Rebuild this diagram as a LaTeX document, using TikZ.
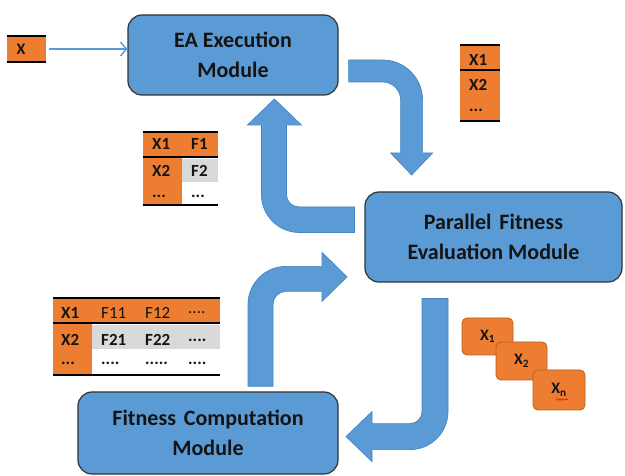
\documentclass[tikz,border=0pt]{standalone}
\usepackage{fontspec}
\setmainfont{Carlito}
\usetikzlibrary{arrows.meta,decorations.pathmorphing}
\definecolor{boxblue}{HTML}{5B9BD5}
\definecolor{arrowedge}{HTML}{4A85BF}
\definecolor{cellorange}{HTML}{ED7D31}
\definecolor{cellgray}{HTML}{D9D9D9}
\definecolor{inkdark}{HTML}{141414}
\definecolor{chipedge}{HTML}{B65F20}
\begin{document}
\begin{tikzpicture}[x=1pt,y=-1pt,
  module/.style={draw=black!80, line width=1.2pt, fill=boxblue, rounded corners=14pt,
    align=center, font=\fontsize{22}{30}\selectfont\bfseries, text=inkdark, inner sep=0pt},
  bigarrow/.style={fill=boxblue, draw=arrowedge, line width=0.7pt, line join=miter},
  toprule/.style={draw=black, line width=2pt},
  botrule/.style={draw=black, line width=2.6pt},
  celltxt/.style={anchor=west, font=\fontsize{17}{17}\selectfont\bfseries, text=inkdark, inner sep=0pt},
  cellthin/.style={anchor=west, font=\fontsize{17}{17}\selectfont, text=inkdark, inner sep=0pt},
  chip/.style={draw=chipedge, line width=0.8pt, fill=cellorange, rounded corners=5pt,
    font=\fontsize{16}{16}\selectfont\bfseries, text=inkdark, inner sep=0pt},
  feed/.style={draw=boxblue, line width=1.4pt, -{Straight Barb[length=6pt,width=14pt]}}
]
\useasboundingbox[fill=white] (0,0) rectangle (625,476);

% ---- modules ----
\node[module, minimum width=210pt, minimum height=80pt] (ea) at (233,55) {EA Execution\\Module};
\node[module, minimum width=257pt, minimum height=90pt] (pfe) at (493.5,237) {Parallel\hspace{0.36em}Fitness\\Evaluation Module};
\node[module, minimum width=260pt, minimum height=82pt] (fcm) at (208,433) {Fitness\hspace{0.36em}Computation\\Module};

% ---- input individual ----
\node[fill=cellorange, anchor=west, minimum height=26pt, text width=20pt, inner xsep=9.5pt, inner ysep=0pt,
  align=left, font=\fontsize{16}{16}\selectfont\bfseries, text=inkdark] (xin) at (7,49) {X};
\draw[toprule] (xin.north west) -- (xin.north east);
\draw[botrule] (xin.south west) -- (xin.south east);
\draw[feed, shorten <=3pt] (xin.east) -- (xin.east -| ea.west);

% ---- EA -> parallel evaluation ----
\begin{scope}[shift={(ea.east)}]
\path[bigarrow] (10,5) -- (44,5) .. controls (66.1,5) and (84,22.9) .. (84,45) -- (84,98) -- (94,98)
  -- (73,120) -- (52,98) -- (62,98) -- (62,45) .. controls (62,35.06) and (53.94,27) .. (44,27)
  -- (10,27) -- cycle;
\end{scope}

% ---- parallel evaluation -> EA ----
\begin{scope}[shift={(pfe.west)}]
\path[bigarrow] (-10,-30) -- (-65,-30) .. controls (-72.18,-30) and (-78,-35.32) .. (-78,-42.5)
  -- (-78,-112) -- (-63,-112) -- (-90,-138) -- (-117,-112) -- (-103,-112) -- (-103,-42.5)
  .. controls (-103,-21.51) and (-85.99,-4.5) .. (-65,-4.5) -- (-10,-4.5) -- cycle;
\end{scope}

% ---- fitness computation -> parallel evaluation ----
\begin{scope}[shift={(fcm.north)}]
\path[bigarrow] (40,-5) -- (40,-87) .. controls (40,-107.99) and (57.01,-125) .. (78,-125)
  -- (114,-125) -- (114,-139) -- (139,-114.5) -- (114,-90) -- (114,-100) -- (78,-100)
  .. controls (70.82,-100) and (65,-94.18) .. (65,-87) -- (65,-5) -- cycle;
\end{scope}

% ---- parallel evaluation -> fitness computation ----
\begin{scope}[shift={(pfe.south)}]
\path[bigarrow] (-71.5,16) -- (-45.5,16) -- (-45.5,129) .. controls (-45.5,149.99) and (-62.51,167) .. (-83.5,167)
  -- (-121.5,167) -- (-121.5,179) -- (-147.5,154) -- (-121.5,129) -- (-121.5,141) -- (-83.5,141)
  .. controls (-76.87,141) and (-71.5,135.63) .. (-71.5,129) -- cycle;
\end{scope}

% ---- population table ----
\fill[cellorange] (460,45) rectangle (500,121);
\draw[toprule] (460,45) -- (500,45);
\draw[toprule] (460,70) -- (500,70);
\draw[botrule] (460,121) -- (500,121);
\node[celltxt] (p1) at (469,60) {X1};
\node[celltxt] (p2) at (469,85) {X2};
\node[celltxt] (p3) at (469,110) {...};

% ---- individuals with fitness ----
\fill[cellorange] (143,132) rectangle (218,157);
\fill[cellorange] (143,157) rectangle (182,205);
\fill[cellgray] (182,159) rectangle (218,182);
\draw[toprule] (143,132) -- (218,132);
\draw[toprule] (143,157) -- (218,157);
\draw[botrule] (143,205) -- (218,205);
\node[celltxt] (f11) at (152,144) {X1};
\node[celltxt] (f12) at (191,144) {F1};
\node[celltxt] (f21) at (152,171) {X2};
\node[celltxt] (f22) at (191,171) {F2};
\node[celltxt] (f31) at (152,196) {...};
\node[celltxt] (f32) at (191,196) {...};

% ---- individuals with partial fitness values ----
\fill[cellorange] (53,298) rectangle (220,323);
\fill[cellorange] (53,323) rectangle (92,375);
\fill[cellgray] (92,325) rectangle (220,349);
\draw[toprule] (53,298) -- (220,298);
\draw[toprule] (53,323) -- (220,323);
\draw[botrule] (53,375) -- (220,375);
\node[celltxt] (g11) at (61,313) {X1};
\node[cellthin] (g12) at (101,313) {F11};
\node[cellthin] (g13) at (145,313) {F12};
\node[cellthin] (g14) at (188,313) {....};
\node[celltxt] (g21) at (61,340) {X2};
\node[celltxt] (g22) at (101,340) {F21};
\node[celltxt] (g23) at (145,340) {F22};
\node[celltxt] (g24) at (188,340) {....};
\node[celltxt] (g31) at (61,363) {...};
\node[celltxt] (g32) at (101,363) {....};
\node[celltxt] (g33) at (145,363) {.....};
\node[celltxt] (g34) at (188,363) {....};

% ---- individuals sent out for evaluation ----
\node[chip, minimum width=51pt, minimum height=37pt] (c1) at (487.5,336.5) {X\textsubscript{1}};
\node[chip, minimum width=51pt, minimum height=38pt] (c2) at (521.5,361) {X\textsubscript{2}};
\node[chip, minimum width=52pt, minimum height=40pt] (cn) at (559,390) {X\textsubscript{n}};
\draw[red, line width=0.6pt, decorate, decoration={snake, amplitude=0.8pt, segment length=3pt}]
  ([shift={(-3,9.5)}]cn.center) -- ([shift={(9,9.5)}]cn.center);
\end{tikzpicture}
\end{document}
